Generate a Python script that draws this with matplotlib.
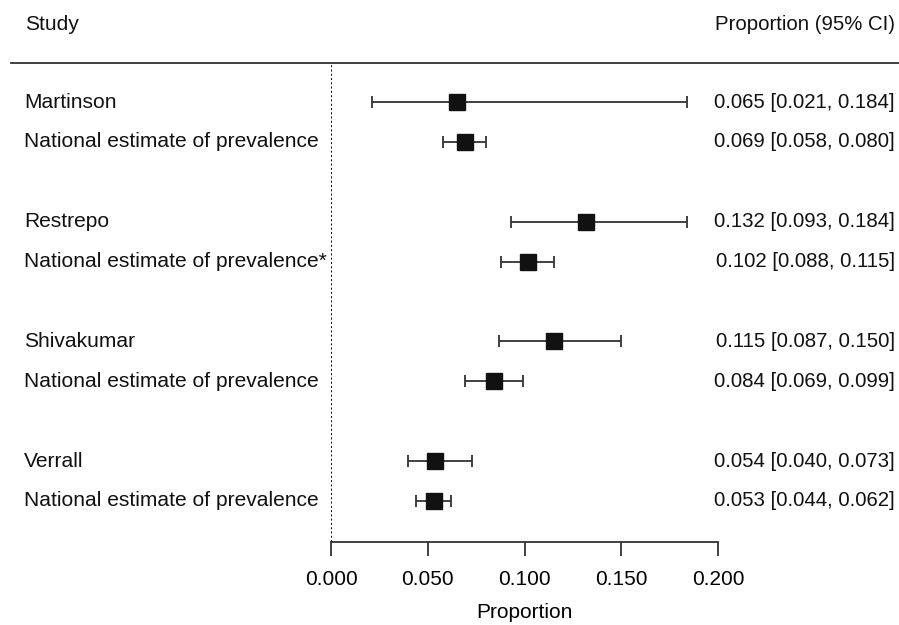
import matplotlib
matplotlib.use("Agg")
import matplotlib.pyplot as plt
from matplotlib.lines import Line2D
import matplotlib.transforms as mtransforms

studies = ["Martinson", "National estimate of prevalence",
           "Restrepo", "National estimate of prevalence*",
           "Shivakumar", "National estimate of prevalence",
           "Verrall", "National estimate of prevalence"]
rows = [0, 1, 3, 4, 6, 7, 9, 10]
est = [0.065, 0.069, 0.132, 0.102, 0.115, 0.084, 0.054, 0.053]
lo = [0.021, 0.058, 0.093, 0.088, 0.087, 0.069, 0.040, 0.044]
hi = [0.184, 0.080, 0.184, 0.115, 0.150, 0.099, 0.073, 0.062]
xticks = [0.0, 0.05, 0.10, 0.15, 0.20]

W, H = 899, 625
plt.rcParams['font.family'] = ['Liberation Sans', 'DejaVu Sans']
FS_LAB = 15.1
FS_NUM = 14.7
FS_TICK = 15.0
fig = plt.figure(figsize=(W / 100, H / 100), dpi=100)

ax_left, ax_right = 331 / W, 718 / W
ax_top, ax_bot = 1 - 63 / H, 1 - 542 / H
ax = fig.add_axes([ax_left, ax_bot, ax_right - ax_left, ax_top - ax_bot])

# rows: row 0 at y=102px, row 10 at y=501px
unit = (501 - 102) / 10
ytop = -(102 - 63) / unit
ybot = 10 + (542 - 501) / unit
ax.set_ylim(ybot, ytop)
ax.set_xlim(0, 0.2)

lc = '#333333'
for r, e, l, h in zip(rows, est, lo, hi):
    ax.errorbar([e], [r], xerr=[[e - l], [h - e]], fmt='none', ecolor=lc,
                elinewidth=1.3, capsize=4, capthick=1.3, zorder=2)
    ax.plot([e], [r], marker='s', markersize=11.0, color='#111111',
            markeredgecolor='#111111', linestyle='none', zorder=3)

ax.axvline(0, color='#000000', linestyle=(0, (1.0, 1.2)), linewidth=1.4, zorder=1)

for s in ['top', 'right', 'left']:
    ax.spines[s].set_visible(False)
ax.spines['bottom'].set_bounds(0, 0.2)
ax.spines['bottom'].set_color(lc)
ax.spines['bottom'].set_linewidth(1.3)
ax.set_yticks([])
ax.set_xticks(xticks)
ax.set_xticklabels(["%.3f" % t for t in xticks], fontsize=FS_TICK)
ax.tick_params(axis='x', direction='out', length=10, width=1.3, color=lc, pad=10)
ax.set_xlabel("Proportion", fontsize=FS_TICK, labelpad=10)

# Left labels and right text
trans_left = mtransforms.blended_transform_factory(fig.transFigure, ax.transData)
for r, s in zip(rows, studies):
    ax.text(24 / W, r, s, transform=trans_left, fontsize=FS_LAB, ha='left',
            va='center', color='#111111')
for r, e, l, h in zip(rows, est, lo, hi):
    ax.text(895 / W, r, "%.3f [%.3f, %.3f]" % (e, l, h), transform=trans_left,
            fontsize=FS_NUM, ha='right', va='center', color='#111111')

fig.text(25 / W, 1 - 24 / H, "Study", fontsize=FS_LAB, ha='left', va='center', color='#111111')
fig.text(895 / W, 1 - 24 / H, "Proportion (95% CI)", fontsize=FS_NUM, ha='right',
         va='center', color='#111111')
fig.add_artist(Line2D([11 / W, 1.0], [1 - 63 / H, 1 - 63 / H], color=lc,
                      linewidth=1.3, transform=fig.transFigure))

fig.savefig("out.png", dpi=100)
